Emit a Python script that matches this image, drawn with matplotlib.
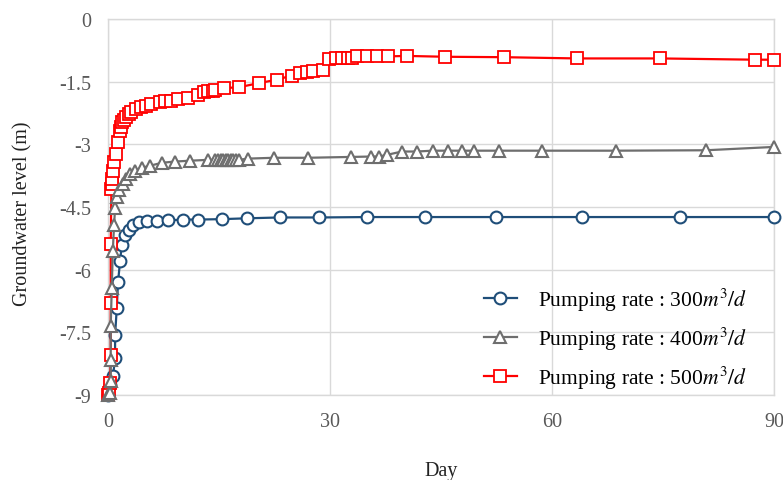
import matplotlib
matplotlib.use("Agg")
import matplotlib.pyplot as plt

plt.rcParams['font.family'] = ['Liberation Serif', 'DejaVu Serif']
plt.rcParams['mathtext.fontset'] = 'stix'

# Groundwater level (m) vs elapsed day for three pumping rates
day_300 = [0, 0.27, 0.68, 0.95, 0.95, 1.18, 1.35, 1.62, 1.85, 2.3, 2.84, 3.38, 4.19,
           5.27, 6.62, 8.1, 10.1, 12.2, 15.4, 18.8, 23.2, 28.5, 35.0, 42.8, 52.4,
           64.1, 77.3, 90]
level_300 = [-9.0, -8.76, -8.54, -8.11, -7.57, -6.92, -6.30, -5.80, -5.42, -5.18, -5.04,
             -4.94, -4.87, -4.84, -4.84, -4.82, -4.80, -4.80, -4.79, -4.77, -4.75,
             -4.75, -4.74, -4.74, -4.74, -4.74, -4.74, -4.74]

day_400 = [0, 0.27, 0.36, 0.36, 0.36, 0.5, 0.64, 0.81, 0.95, 1.18, 1.53, 1.99, 2.43,
           2.97, 3.65, 4.55, 5.68, 7.26, 9.05, 11.1, 13.5, 14.5, 14.85, 15.2, 15.55,
           15.9, 16.25, 16.6, 16.95, 17.3, 17.65, 18.9, 22.4, 27.0, 32.8, 35.6, 36.6,
           37.7, 39.7, 41.7, 43.9, 45.9, 47.8, 49.5, 52.8, 58.6, 68.7, 80.8, 90]
level_400 = [-9.0, -8.95, -8.66, -8.16, -7.35, -6.44, -5.56, -4.94, -4.53, -4.27, -4.10,
             -3.94, -3.82, -3.72, -3.63, -3.56, -3.51, -3.44, -3.41, -3.39, -3.37,
             -3.37, -3.37, -3.37, -3.37, -3.37, -3.37, -3.37, -3.37, -3.37, -3.37,
             -3.34, -3.32, -3.32, -3.30, -3.29, -3.29, -3.25, -3.17, -3.17, -3.15,
             -3.15, -3.15, -3.15, -3.15, -3.15, -3.15, -3.14, -3.06]

day_500 = [0, 0.15, 0.27, 0.36, 0.36, 0.36, 0.45, 0.55, 0.6, 0.7, 0.81, 1.08, 1.4,
           1.57, 1.75, 1.89, 2.1, 2.47, 2.8, 3.14, 3.82, 4.5, 5.18, 5.85, 7.0, 7.66,
           8.47, 9.46, 10.8, 12.2, 13.0, 13.5, 14.2, 14.5, 15.7, 17.7, 20.4, 22.8,
           24.8, 25.9, 26.9, 27.7, 29.1, 29.9, 30.8, 31.6, 32.4, 33.0, 33.6, 35.0,
           36.3, 37.9, 40.4, 45.6, 53.5, 63.4, 74.6, 87.4, 90]
level_500 = [-9.0, -8.95, -8.71, -8.04, -6.80, -5.39, -4.07, -3.94, -3.82, -3.63, -3.42,
             -3.22, -2.94, -2.67, -2.58, -2.47, -2.42, -2.35, -2.28, -2.23, -2.15,
             -2.11, -2.07, -2.03, -1.99, -1.97, -1.95, -1.91, -1.89, -1.81, -1.75,
             -1.73, -1.71, -1.69, -1.65, -1.63, -1.53, -1.45, -1.35, -1.30, -1.26,
             -1.24, -1.22, -0.95, -0.94, -0.94, -0.94, -0.93, -0.89, -0.89, -0.89,
             -0.89, -0.88, -0.90, -0.91, -0.94, -0.94, -0.97, -0.97]

labels = [r'Pumping rate : 300$m^3/d$', r'Pumping rate : 400$m^3/d$',
          r'Pumping rate : 500$m^3/d$']

fig = plt.figure(figsize=(7.83, 4.81), dpi=100)
ax = fig.add_axes([0.138, 0.177, 0.8505, 0.781])

ax.plot(day_300, level_300, '-o', color='#1F4E79', lw=1.6, ms=8.5,
        mfc='white', mew=1.5, clip_on=False, zorder=3, label=labels[0])
ax.plot(day_400, level_400, '-^', color='#6E6E6E', lw=1.6, ms=8.5,
        mfc='white', mew=1.5, clip_on=False, zorder=4, label=labels[1])
ax.plot(day_500, level_500, '-s', color='#FF0000', lw=1.6, ms=8.5,
        mfc='white', mew=1.3, clip_on=False, zorder=3, label=labels[2])

ax.set_xlim(0, 90)
ax.set_ylim(-9, 0)
ax.set_xticks([0, 30, 60, 90])
ax.set_yticks([0, -1.5, -3, -4.5, -6, -7.5, -9])
ax.set_yticklabels(['0', '-1.5', '-3', '-4.5', '-6', '-7.5', '-9'])
ax.tick_params(length=0, labelsize=14.5, colors='#595959', pad=12)
ax.grid(True, color='#D9D9D9', lw=1)
ax.set_axisbelow(True)
for s in ax.spines.values():
    s.set_color('#D9D9D9')
    s.set_linewidth(1)

ax.set_xlabel('Day', fontsize=14.5, color='#222222', labelpad=22)
ax.set_ylabel('Groundwater level (m)', fontsize=14.5, color='#222222')
ax.yaxis.set_label_coords(-0.114, 0.484)

ax.legend(loc='upper left', bbox_to_anchor=(0.552, 0.313), frameon=False,
          fontsize=15.5, handlelength=1.5, handletextpad=1.0, labelspacing=0.55,
          borderaxespad=0)

fig.savefig('out.png', dpi=100)
